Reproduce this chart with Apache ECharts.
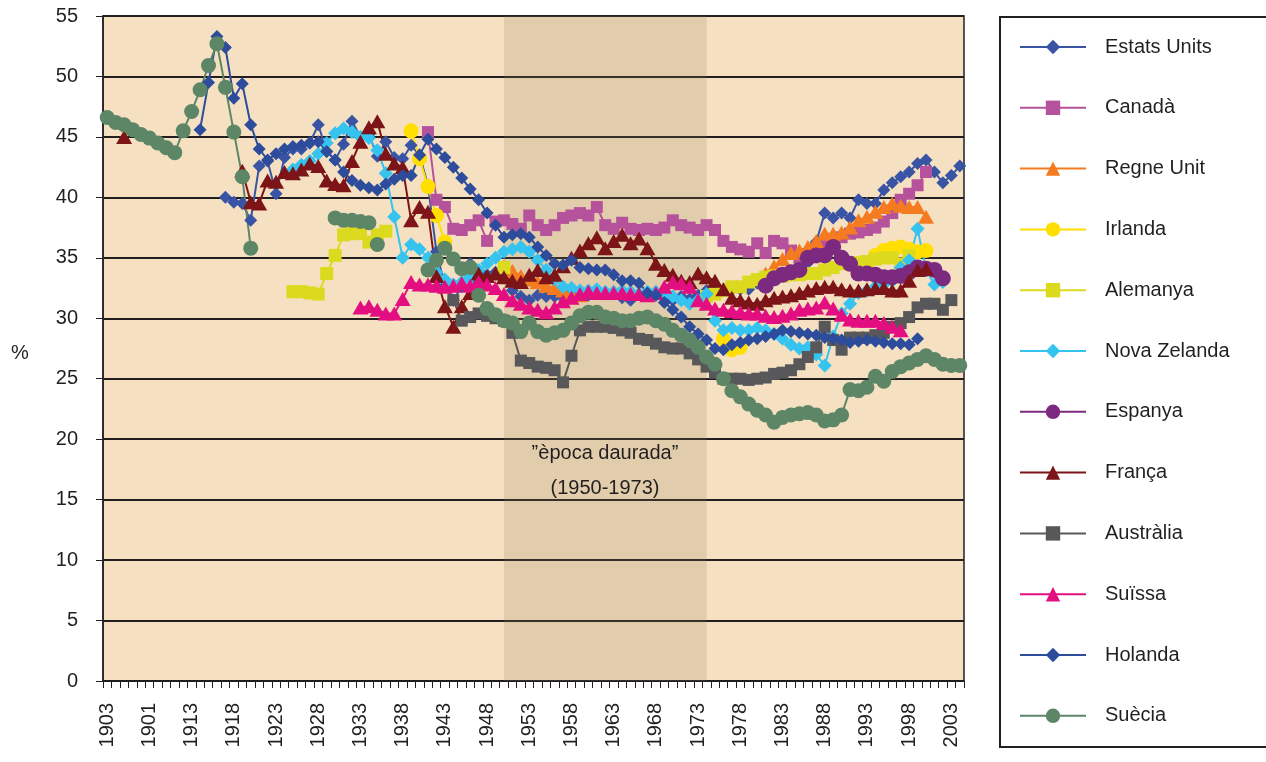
<!DOCTYPE html>
<html>
<head>
<meta charset="utf-8">
<title>Participació de la renda</title>
<script src="https://cdn.jsdelivr.net/npm/echarts@6/dist/echarts.min.js"></script>
<style>
  html, body { margin: 0; padding: 0; background: #fff; }
  #chart { width: 1266px; height: 762px; }
</style>
</head>
<body>
<div id="chart"></div>
<script>
// categories: one slot per year
const firstYear = 1903;
const years = [];
for (let y = firstYear; y <= 2004; y++) years.push(String(y));
// the original axis prints 1901 in place of 1908
const labelFix = { '1908': '1901' };

// each series: [first year, values...] runs, gaps left empty
const estatsUnits = [
  [1917, [40.0, 39.6, 39.5, 38.1, 42.6, 43.0, 40.3, 43.3, 44.0, 44.0, 44.5, 46.0, 43.8, 43.1, 44.4, 46.3, 45.0,
    45.2, 43.4, 44.6, 43.3, 43.2, 44.3, 43.5, 41.0, 35.5, 32.7, 31.5, 32.6, 34.5, 33.0, 33.6, 33.8, 33.8,
    32.3, 31.8, 31.5, 31.9, 31.8, 31.8, 31.7, 32.1, 32.2, 31.9, 32.1, 32.0, 32.0, 31.7, 31.5, 32.0, 32.0, 32.0,
    31.8, 31.5, 31.8, 31.6, 31.9, 32.3, 32.6, 32.4, 32.4, 32.4, 32.4, 32.9, 32.7, 33.2, 33.7, 33.9, 34.3, 34.6,
    36.3, 38.7, 38.3, 38.7, 38.3, 39.8, 39.5, 39.5, 40.6, 41.2, 41.7, 42.1, 42.8, 43.1, 42.1, 41.2, 41.8, 42.6]]
];
const canada = [
  [1941, [45.4, 39.8, 39.2, 37.4, 37.3, 37.7, 38.1, 36.4, 38.0, 38.1, 37.8, 37.4, 38.5, 37.7, 37.3, 37.7, 38.3,
    38.5, 38.7, 38.5, 39.2, 37.7, 37.4, 37.9, 37.4, 37.3, 37.4, 37.3,
    37.5, 38.1, 37.7, 37.5, 37.3, 37.7, 37.3, 36.4, 35.9, 35.7, 35.5, 36.2, 35.4, 36.4, 36.2, 35.6, 35.0, 35.3,
    35.8, 36.0, 36.2, 36.7, 37.0, 37.1, 37.3, 37.5, 38.0, 38.7, 39.8, 40.3, 41.0, 42.1]]
];
const regneUnit = [
  [1950, [34.3, 33.9, 33.5, 33.2, 33.0, 32.7, 32.5, 32.3, 32.0, 31.9]],
  [1981, [33.7, 34.3, 34.9, 35.4, 35.6, 35.9, 36.4, 37.0, 37.0, 37.1, 37.5, 38.1, 38.4, 38.8, 39.2, 39.5, 39.3,
    39.2, 39.2, 38.4]]
];
const irlanda = [
  [1939, [45.5, 43.2, 40.9, 38.5, 36.3]],
  [1976, [28.3, 27.4, 27.6]],
  [1992, [34.0, 34.5, 35.2, 35.6, 35.8, 35.9, 35.7, 35.5, 35.6]]
];
const alemanya = [
  [1925, [32.2, 32.2, 32.1, 32.0, 33.7, 35.2, 36.9, 37.0, 37.0, 36.3, 36.9, 37.2]],
  [1950, [34.2]],
  [1974, [31.8, 32.0, 32.3, 32.6, 32.6, 33.0, 33.2, 33.4, 33.5, 33.5, 33.6, 33.6, 33.7, 33.7, 34.0, 34.2, 34.5,
    34.6, 34.6, 34.7, 34.9, 35.0, 35.0, 34.5, 35.2]]
];
const novaZelanda = [
  [1925, [42.3, 42.7, 43.0, 43.6, 44.5, 45.3, 45.7, 45.4, 45.0, 44.9, 43.9, 42.0, 38.4, 35.0, 36.1, 35.7, 35.0,
    33.8, 33.2, 32.8, 33.0, 33.4, 34.0, 34.5, 35.0, 35.5, 35.7, 35.9, 35.5, 34.8, 34.0, 33.2, 32.6, 32.5, 32.3,
    32.3, 32.4, 32.2, 32.2, 32.3, 32.2, 32.0, 32.2, 32.2, 32.0, 31.8, 31.5, 31.2, 31.5,
    32.0, 29.8, 29.0, 29.2, 29.0, 29.0, 29.2, 29.0, 28.7, 28.3, 27.8, 27.5, 27.6, 27.0, 26.1, 28.5, 30.4, 31.2,
    32.1, 32.3, 32.6, 32.8, 33.1, 34.2, 34.8, 37.4, 34.0, 32.8, 33.0]]
];
const espanya = [
  [1981, [32.7, 33.3, 33.6, 33.8, 34.0, 35.0, 35.2, 35.2, 35.9, 35.0, 34.5, 33.7, 33.7, 33.6, 33.4, 33.4, 33.5,
    33.8, 34.2, 34.1, 34.0, 33.3]]
];
const franca = [
  [1905, [45.0]],
  [1919, [42.2, 39.6, 39.5, 41.4, 41.3, 42.1, 42.0, 42.3, 42.8, 42.6, 41.4, 41.1, 41.0, 43.0, 44.6, 45.8, 46.3,
    43.6, 42.8, 42.5, 38.1, 39.2, 38.8, 33.5, 31.0, 29.3, 31.0, 32.1, 33.7, 33.5, 33.7,
    33.4, 33.1, 33.0, 33.6, 34.0, 33.4, 33.6, 34.3, 35.0, 35.6, 36.2, 36.7, 35.8, 36.4, 36.9, 36.2, 36.6, 35.8,
    34.5, 34.0, 33.6, 33.1, 33.0, 33.7, 33.4, 33.1, 32.4, 31.7, 31.5, 31.3, 31.2, 31.5, 31.7, 31.8, 31.9, 32.1,
    32.3, 32.5, 32.6, 32.6, 32.4, 32.3, 32.3, 32.4, 32.5, 32.5, 32.3, 32.3, 33.1, 34.0, 34.1]]
];
const australia = [
  [1944, [31.5, 29.8, 30.1, 30.4, 30.2, 30.0, 29.8, 28.8, 26.5, 26.3, 26.0, 25.9, 25.7, 24.7, 26.9,
    29.0, 29.3, 29.3, 29.3, 29.2, 29.0, 28.8, 28.3, 28.2, 27.9, 27.6, 27.5, 27.5, 27.1, 26.6, 26.0, 25.5, 25.0,
    25.0, 25.0, 24.9, 25.0, 25.1, 25.4, 25.5, 25.7, 26.2, 26.8, 27.6, 29.3, 28.2, 27.4, 28.4, 28.4, 28.4, 28.6,
    28.8, 29.3, 29.6, 30.1, 30.9, 31.2, 31.2, 30.7, 31.5]]
];
const suissa = [
  [1933, [30.9, 31.0, 30.7, 30.4, 30.4, 31.6, 33.0, 32.8, 32.8, 32.7, 32.6, 32.7, 32.9, 32.7, 33.0, 32.8, 32.5,
    32.0, 31.5, 31.2, 30.9, 30.7, 30.5, 30.9, 31.4, 31.7, 32.0, 32.2, 32.1, 32.1, 32.1, 32.1, 32.0, 32.0, 31.9,
    32.1, 32.6, 33.0, 32.9, 32.6, 31.5, 31.2, 30.8, 30.7, 30.6, 30.5, 30.4, 30.4, 30.2, 30.1, 30.2, 30.4, 30.7,
    30.8, 30.9, 31.3, 30.8, 30.3, 29.9, 29.8, 29.8, 29.8, 29.6, 29.3, 29.0]]
];
const holanda = [
  [1914, [45.6, 49.5, 53.3, 52.4, 48.2, 49.4, 46.0, 44.0, 43.1, 43.6, 44.0, 44.2, 44.3, 44.5, 44.6, 43.8, 43.1,
    42.1, 41.4, 41.0, 40.8, 40.6, 41.1, 41.5, 41.8, 41.8, 43.5, 44.8, 44.0, 43.3, 42.5, 41.6, 40.7, 39.8, 38.7,
    37.7, 36.7, 36.9, 37.0, 36.7, 35.9, 35.2, 34.5, 34.4, 34.8, 34.2, 34.1, 34.0, 34.0, 33.6, 33.1, 33.1, 32.9,
    32.1, 31.9, 31.3, 30.7, 30.1, 29.3, 28.7, 28.2, 27.5, 27.4, 27.8, 28.0, 28.2, 28.3, 28.5, 28.7, 29.0, 28.9,
    28.8, 28.7, 28.6, 28.4, 28.3, 28.2, 28.0, 28.1, 28.2, 28.1, 28.0, 27.9, 27.9, 27.8, 28.3]]
];
const suecia = [
  [1903, [46.6, 46.2, 46.0, 45.6, 45.2, 44.9, 44.5, 44.1, 43.7, 45.5, 47.1, 48.9, 50.9, 52.7, 49.1, 45.4, 41.7,
    35.8]],
  [1930, [38.3, 38.1, 38.1, 38.0, 37.9, 36.1]],
  [1941, [34.0, 34.8, 35.8, 34.9, 34.1, 34.2, 31.9, 30.8, 30.3,
    29.8, 29.6, 28.9, 29.6, 28.9, 28.6, 28.8, 29.0, 29.6, 30.2, 30.5, 30.5, 30.1, 30.0, 29.8, 29.8, 30.0, 30.1,
    29.8, 29.5, 29.0, 28.6, 28.2, 27.6, 26.8, 26.2, 25.0, 24.0, 23.5, 22.9, 22.4, 22.0, 21.4, 21.8, 22.0, 22.1,
    22.2, 22.0, 21.5, 21.6, 22.0, 24.1, 24.0, 24.3, 25.2, 24.8, 25.6, 26.0, 26.3, 26.6, 26.9, 26.6, 26.2, 26.1,
    26.1]]
];

// put each run on the year axis
function fromRuns(runs) {
  const out = years.map(() => null);
  runs.forEach(([start, vals]) => {
    vals.forEach((v, k) => { out[start - firstYear + k] = v; });
  });
  return out;
}

const font = "'Liberation Sans', Arial, sans-serif";
const ink = '#231f20';

function line(name, runs, color, symbol, size) {
  return {
    name: name,
    type: 'line',
    data: fromRuns(runs),
    symbol: symbol,
    symbolSize: size,
    showSymbol: true,
    showAllSymbol: true,
    connectNulls: false,
    lineStyle: { color: color, width: 2 },
    itemStyle: { color: color },
    emphasis: { disabled: true },
    animation: false
  };
}

const series = [
  line('Estats Units', estatsUnits, '#3954A4', 'diamond', 13),
  line('Canadà', canada, '#B6529C', 'rect', 12),
  line('Regne Unit', regneUnit, '#F47B20', 'triangle', [16, 14]),
  line('Irlanda', irlanda, '#FFDE00', 'circle', 15),
  line('Alemanya', alemanya, '#DCDA1F', 'rect', 13),
  line('Nova Zelanda', novaZelanda, '#35C3F0', 'diamond', 14),
  line('Espanya', espanya, '#7B2A7F', 'circle', 16),
  line('França', franca, '#7D1417', 'triangle', [16, 14]),
  line('Austràlia', australia, '#58585B', 'rect', 12),
  line('Suïssa', suissa, '#E30F80', 'triangle', [16, 14]),
  line('Holanda', holanda, '#2D4C9C', 'diamond', 13),
  line('Suècia', suecia, '#5D8667', 'circle', 15)
];

// shaded "golden age" band
series[0].markArea = {
  silent: true,
  itemStyle: { color: 'rgba(140,120,80,0.19)' },
  data: [[{ xAxis: '1950' }, { xAxis: '1974' }]]
};

const chart = echarts.init(document.getElementById('chart'));
chart.setOption({
  animation: false,
  backgroundColor: '#fff',
  grid: {
    left: 103, right: 302, top: 16, bottom: 81,
    show: true, backgroundColor: '#F5E1C1', borderColor: ink, borderWidth: 1.5
  },
  legend: {
    orient: 'vertical',
    left: 1019, top: 37,
    padding: 0,
    itemWidth: 66, itemHeight: 18, itemGap: 40.8,
    selectedMode: false,
    textStyle: { fontSize: 20, color: ink, fontFamily: font, lineHeight: 20, padding: [0, 0, 0, 14] },
    data: series.map(s => s.name)
  },
  xAxis: {
    type: 'category',
    data: years,
    boundaryGap: true,
    axisLine: { lineStyle: { color: ink, width: 1.5 } },
    axisTick: { show: true, interval: 0, length: 7, lineStyle: { color: ink } },
    axisLabel: {
      interval: 4, rotate: 90, margin: 22, fontSize: 20, color: ink, fontFamily: font,
      formatter: v => labelFix[v] || v
    },
    splitLine: { show: false }
  },
  yAxis: {
    type: 'value',
    min: 0, max: 55, interval: 5,
    axisLine: { show: true, lineStyle: { color: ink, width: 1.5 } },
    axisTick: { show: true, length: 7, lineStyle: { color: ink } },
    axisLabel: { margin: 25, fontSize: 20, color: ink, fontFamily: font },
    splitLine: { lineStyle: { color: ink, width: 2 } }
  },
  graphic: [
    { type: 'rect', shape: { x: 1000, y: 17, width: 290, height: 730 },
      style: { fill: 'none', stroke: ink, lineWidth: 2 }, silent: true },
    { type: 'text', x: 20, y: 353,
      style: { text: '%', fontSize: 20, fontFamily: font, fill: ink, textAlign: 'center', textVerticalAlign: 'middle' } },
    { type: 'text', x: 605, y: 436, z: 100,
      style: { text: '”època daurada”\n(1950-1973)', fontSize: 20, lineHeight: 35, fontFamily: font,
        fill: ink, textAlign: 'center', textVerticalAlign: 'top' } }
  ],
  series: series
});
window.addEventListener('resize', function () { chart.resize(); });
</script>
</body>
</html>
